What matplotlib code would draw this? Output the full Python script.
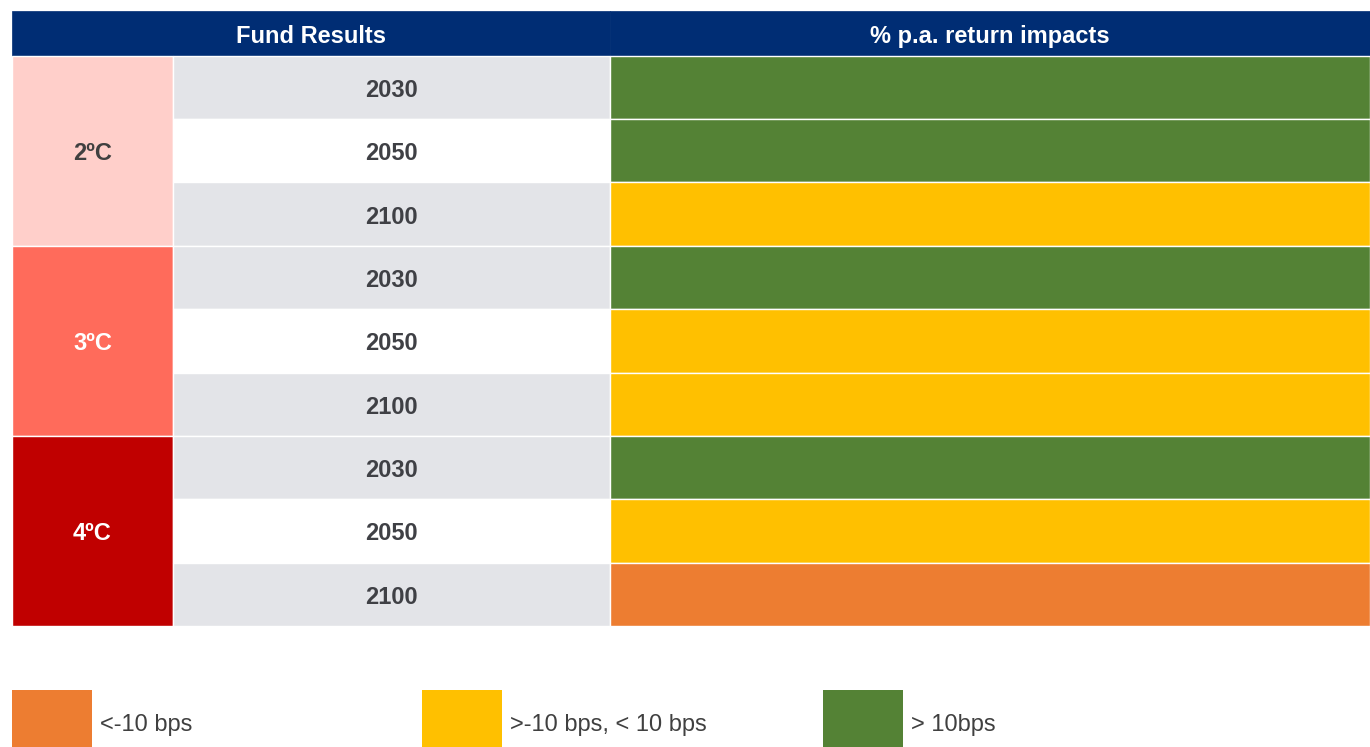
import matplotlib.pyplot as plt
import numpy as np

# table content
temps = ['2ºC', '3ºC', '4ºC']
years = ['2030', '2050', '2100']
impacts = ['high', 'high', 'mid',
           'high', 'mid', 'mid',
           'high', 'mid', 'low']
headers = ['Fund Results', '% p.a. return impacts']
legend_keys = ['low', 'mid', 'high']
legend_labels = ['<-10 bps', '>-10 bps, < 10 bps', '> 10bps']

impact_colors = {'low': '#ED7D31', 'mid': '#FFC000', 'high': '#548235'}
temp_colors = ['#FFCFCA', '#FF6B5B', '#C00000']
temp_text = ['#404040', 'white', 'white']
navy = '#002D74'
grey = '#E3E4E8'
txt = '#3F4045'

plt.rcParams['font.family'] = ['Liberation Sans', 'DejaVu Sans']

W, H = 1370, 747
fig = plt.figure(figsize=(W / 100, H / 100), dpi=100)
ax = fig.add_axes([0, 0, 1, 1])
ax.set_xlim(0, W)
ax.set_ylim(H, 0)
ax.axis('off')

# layout (pixels)
x0, x1, x2, x3 = 12, 173, 610, W
head_top, head_bot = 11, 55.5
row_h = 63.4
n_rows = len(temps) * len(years)
row_tops = head_bot + row_h * np.arange(n_rows)
row_mid = row_tops + row_h / 2
fs = 17

# header
ax.barh(head_top + (head_bot - head_top) / 2, [x2 - x0, x3 - x2], left=[x0, x2],
        height=head_bot - head_top, color=navy, edgecolor=navy, linewidth=0.5)
for (a, b), label in zip([(x0, x2), (x2, x3)], headers):
    ax.text((a + b) / 2, (head_top + head_bot) / 2 + 3, label, color='white',
            fontsize=fs, fontweight='bold', ha='center', va='center')

# temperature groups
for i, (t, c, tc) in enumerate(zip(temps, temp_colors, temp_text)):
    top = row_tops[i * 3]
    ax.barh(top + 1.5 * row_h, x1 - x0, left=x0, height=3 * row_h,
            color=c, edgecolor='white', linewidth=1)
    ax.text((x0 + x1) / 2, top + 1.5 * row_h + 3, t, color=tc, fontsize=fs,
            fontweight='bold', ha='center', va='center')

# year rows and impact cells
for r in range(n_rows):
    yr = years[r % 3]
    bg = grey if r % 3 != 1 else 'white'
    ax.barh(row_mid[r], x2 - x1, left=x1, height=row_h, color=bg,
            edgecolor='white', linewidth=1)
    ax.text((x1 + x2) / 2, row_mid[r] + 3, yr, color=txt, fontsize=fs,
            fontweight='bold', ha='center', va='center')
    ax.barh(row_mid[r], x3 - x2, left=x2, height=row_h,
            color=impact_colors[impacts[r]], edgecolor='white', linewidth=1)

# legend
leg_x = [12, 422, 823]
sq_w, leg_top = 80, 690
for lx, key, lab in zip(leg_x, legend_keys, legend_labels):
    ax.barh(leg_top + 40, sq_w, left=lx, height=80, color=impact_colors[key])
    ax.text(lx + sq_w + 8, 725, lab, color='#404040', fontsize=fs,
            ha='left', va='center')

fig.savefig('out.png', dpi=100)
